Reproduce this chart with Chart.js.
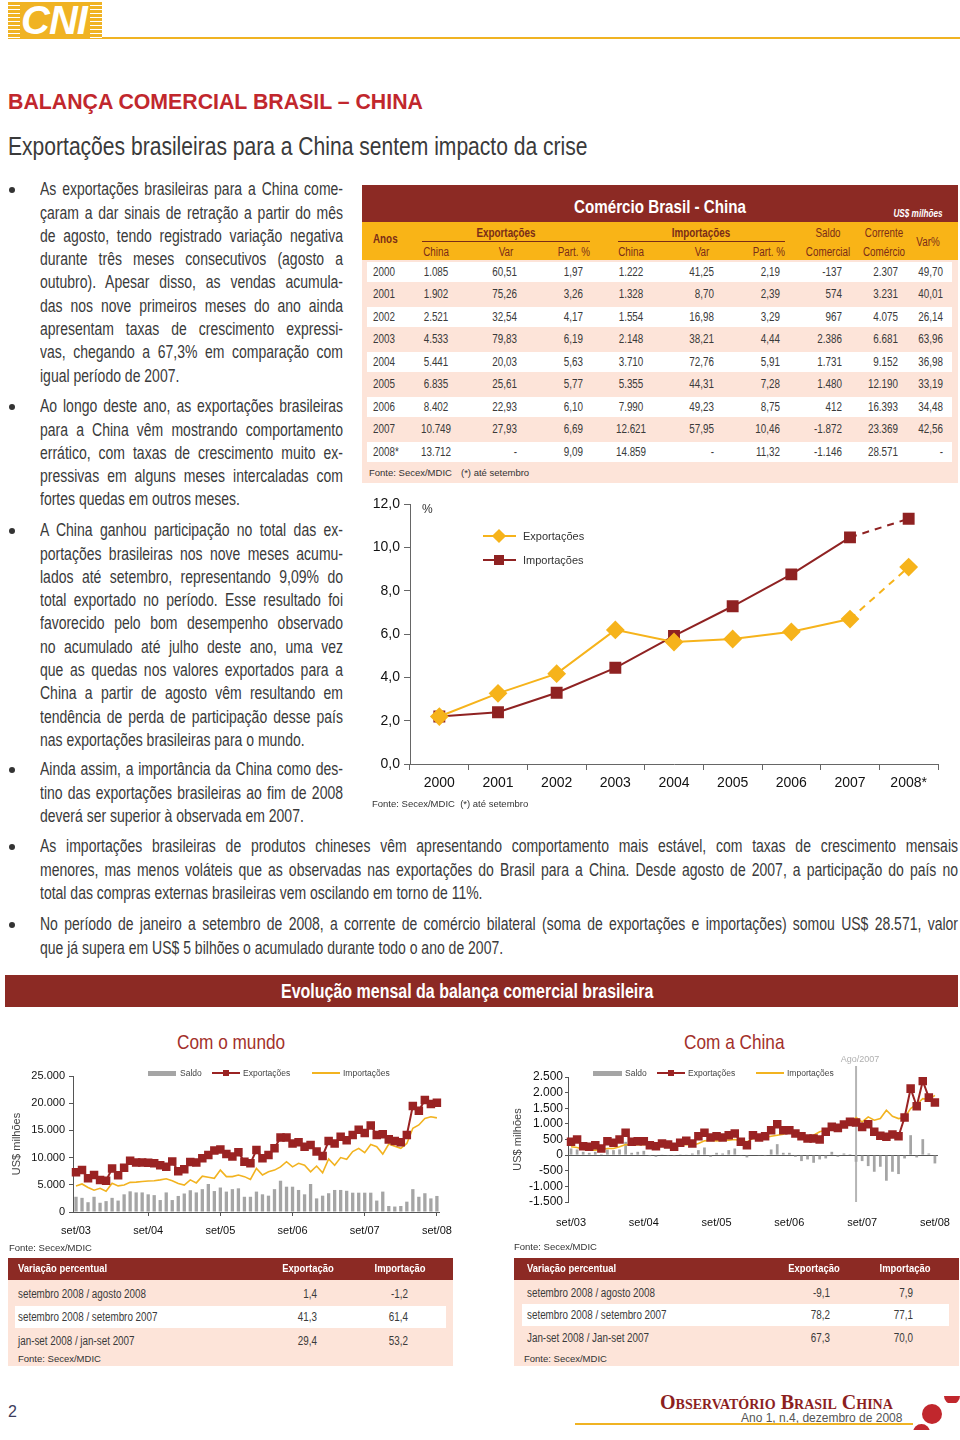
<!DOCTYPE html>
<html lang="pt-BR">
<head>
<meta charset="utf-8">
<title>Balança comercial Brasil – China</title>
<script src="https://cdn.jsdelivr.net/npm/chart.js@4.4.0/dist/chart.umd.min.js"></script>
<style>
  html, body { margin: 0; padding: 0; background: #fff; }
  body { width: 960px; height: 1440px; position: relative; overflow: hidden;
         font-family: Arial, "Liberation Sans", sans-serif; color: #3a3a3a; }
  .abs { position: absolute; }
  /* fonte condensada simulada: Arial comprimida na horizontal */
  .estreita { font-family: Arial, "Liberation Sans", sans-serif; --sx: 0.82; }
  .c { transform: translate(-50%, -50%) scaleX(var(--sx, 1)); white-space: nowrap; }
  .r { transform: translate(-100%, -50%) scaleX(var(--sx, 1)); transform-origin: right center; white-space: nowrap; }
  .l { transform: translateY(-50%) scaleX(var(--sx, 1)); transform-origin: left center; white-space: nowrap; }

  /* logo */
  .logo { left: 8px; top: 2px; width: 94px; height: 37px; background: #f0b323; overflow: hidden; }
  .logo .listras { position: absolute; top: 0; width: 12px; height: 37px;
    background: repeating-linear-gradient(#f0b323 0 3px, #fff 3px 4px); }
  .logo span { position: absolute; left: 13px; top: -4px; font: italic 900 40px Arial, sans-serif; color: #fff; letter-spacing: -1px; }
  .linha-logo { left: 102px; top: 37px; width: 858px; height: 2px; background: #f0b323; }

  .titulo { left: 8px; top: 90px; font: bold 21.3px Arial, sans-serif; color: #c1272d; white-space: nowrap; }
  .subtitulo { left: 8px; top: 132px; font-size: 25.7px; color: #3a3a3a; white-space: nowrap;
               transform: scaleX(0.82); transform-origin: 0 0; }

  .par { font-size: 17.5px; line-height: 23.3px; color: #3a3a3a; transform: scaleX(0.8); transform-origin: 0 0; }
  .par span { display: block; text-align: justify; text-align-last: justify; }
  .par span.u { text-align-last: left; }
  .bala { left: 9px; width: 6px; height: 6px; border-radius: 50%; background: #333; }

  /* tabela comércio */
  .tab-topo { left: 362px; top: 185px; width: 596px; height: 37px; background: #8c2a24; }
  .tab-amarela { left: 362px; top: 222px; width: 596px; height: 38px; background: #f9b417; }
  .tab-corpo { left: 362px; top: 260px; width: 596px; height: 223px; background: #fde4d9; }
  .faixa { background: #fff; }
  .cab { font-size: 12px; color: #7a2c18; }
  .val { font-size: 12px; color: #3a3a3a; }
  .fonte { font: 9.5px Arial, sans-serif; color: #333; white-space: nowrap; }

  .leg { font: 11px Arial, sans-serif; color: #333; white-space: nowrap; }
  .leg-p { font: 8.5px Arial, sans-serif; color: #444; white-space: nowrap; }

  .banner { left: 5px; top: 975px; width: 953px; height: 32px; background: #8c2a24; }
  .banner span { position: absolute; left: 276px; top: 5px; font: bold 19.5px Arial, sans-serif; color: #fff; white-space: nowrap;
                 transform: scaleX(0.82); transform-origin: 0 0; }
  .sub-graf { font-size: 21px; color: #a3302a; }

  .vt-cab { height: 22px; background: #8c2a24; }
  .vt-corpo { background: #fde4d9; }
  .vt-cab-txt { font-weight: bold; font-size: 11.5px; color: #fff; }
  .vt-txt { font-size: 12px; color: #3a3a3a; }

  .rodape-nome { font: bold 20px "Liberation Serif", "DejaVu Serif", serif; font-variant: small-caps; color: #8c1f1f; }
  .rodape-ano { left: 741px; top: 1411px; font: 12px Arial, sans-serif; color: #555; white-space: nowrap; }
</style>
</head>
<body>

<!-- cabeçalho -->
<div class="abs logo"><div class="listras" style="left:0"></div><div class="listras" style="right:0"></div><span>CNI</span></div>
<div class="abs linha-logo"></div>

<div class="abs titulo">BALANÇA COMERCIAL BRASIL – CHINA</div>
<div class="abs subtitulo">Exportações brasileiras para a China sentem impacto da crise</div>

<!-- texto coluna esquerda (caixa 303px depois da compressão 0.8) -->
<div class="abs bala" style="top:187px"></div>
<div class="abs par" style="left:40px;top:178.3px;width:378.75px">
  <span>As exportações brasileiras para a China come-</span>
  <span>çaram a dar sinais de retração a partir do mês</span>
  <span>de agosto, tendo registrado variação negativa</span>
  <span>durante três meses consecutivos (agosto a</span>
  <span>outubro). Apesar disso, as vendas acumula-</span>
  <span>das nos nove primeiros meses do ano ainda</span>
  <span>apresentam taxas de crescimento expressi-</span>
  <span>vas, chegando a 67,3% em comparação com</span>
  <span class="u">igual período de 2007.</span>
</div>

<div class="abs bala" style="top:404px"></div>
<div class="abs par" style="left:40px;top:395.3px;width:378.75px">
  <span>Ao longo deste ano, as exportações brasileiras</span>
  <span>para a China vêm mostrando comportamento</span>
  <span>errático, com taxas de crescimento muito ex-</span>
  <span>pressivas em alguns meses intercaladas com</span>
  <span class="u">fortes quedas em outros meses.</span>
</div>

<div class="abs bala" style="top:528px"></div>
<div class="abs par" style="left:40px;top:519.3px;width:378.75px">
  <span>A China ganhou participação no total das ex-</span>
  <span>portações brasileiras nos nove meses acumu-</span>
  <span>lados até setembro, representando 9,09% do</span>
  <span>total exportado no período. Esse resultado foi</span>
  <span>favorecido pelo bom desempenho observado</span>
  <span>no acumulado até julho deste ano, uma vez</span>
  <span>que as quedas nos valores exportados para a</span>
  <span>China a partir de agosto vêm resultando em</span>
  <span>tendência de perda de participação desse país</span>
  <span class="u">nas exportações brasileiras para o mundo.</span>
</div>

<div class="abs bala" style="top:767px"></div>
<div class="abs par" style="left:40px;top:758.3px;width:378.75px">
  <span>Ainda assim, a importância da China como des-</span>
  <span>tino das exportações brasileiras ao fim de 2008</span>
  <span class="u">deverá ser superior à observada em 2007.</span>
</div>

<!-- tabela Comércio Brasil - China -->
<div class="abs tab-topo"></div>
<div class="abs tab-amarela"></div>
<div class="abs tab-corpo"></div>
<div id="tabela"></div>
<div class="abs c estreita" style="left:660px;top:207px;font-weight:bold;font-size:18.5px;color:#fff">Comércio Brasil - China</div>
<div class="abs c estreita" style="left:918px;top:213px;font-weight:bold;font-style:italic;font-size:10px;color:#fff">US$ milhões</div>

<!-- gráfico de participação -->
<canvas id="graficoParticipacao" class="abs" style="left:362px;top:490px" width="598" height="330"></canvas>
<div class="abs l" style="left:422px;top:509px;font:12px Arial,sans-serif;color:#333">%</div>
<div class="abs" style="left:483px;top:535px;width:33px;height:2px;background:#f6b31b"></div>
<div class="abs" style="left:494px;top:531px;width:10px;height:10px;background:#f6b31b;transform:rotate(45deg)"></div>
<div class="abs leg l" style="left:523px;top:536px">Exportações</div>
<div class="abs" style="left:483px;top:559px;width:33px;height:2px;background:#8f2222"></div>
<div class="abs" style="left:494px;top:555px;width:10px;height:10px;background:#8f2222"></div>
<div class="abs leg l" style="left:523px;top:560px">Importações</div>
<div class="abs fonte l" style="left:372px;top:803px">Fonte: Secex/MDIC&nbsp; (*) até setembro</div>

<!-- texto largura total (caixa 918px depois da compressão 0.8) -->
<div class="abs bala" style="top:844px"></div>
<div class="abs par" style="left:40px;top:835.3px;width:1147.5px">
  <span>As importações brasileiras de produtos chineses vêm apresentando comportamento mais estável, com taxas de crescimento mensais</span>
  <span>menores, mas menos voláteis que as observadas nas exportações do Brasil para a China. Desde agosto de 2007, a participação do país no</span>
  <span class="u">total das compras externas brasileiras vem oscilando em torno de 11%.</span>
</div>
<div class="abs bala" style="top:922px"></div>
<div class="abs par" style="left:40px;top:913.3px;width:1147.5px">
  <span>No período de janeiro a setembro de 2008, a corrente de comércio bilateral (soma de exportações e importações) somou US$ 28.571, valor</span>
  <span class="u">que já supera em US$ 5 bilhões o acumulado durante todo o ano de 2007.</span>
</div>

<!-- evolução mensal -->
<div class="abs banner"><span>Evolução mensal da balança comercial brasileira</span></div>
<div class="abs sub-graf estreita l" style="left:177px;top:1042px">Com o mundo</div>
<div class="abs sub-graf estreita l" style="left:684px;top:1042px">Com a China</div>

<canvas id="graficoMundo" class="abs" style="left:0;top:1055px" width="460" height="190"></canvas>
<canvas id="graficoChina" class="abs" style="left:505px;top:1055px" width="455" height="190"></canvas>

<!-- legendas dos gráficos mensais -->
<div class="abs" style="left:148px;top:1071px;width:28px;height:5px;background:#a5a5a5"></div>
<div class="abs leg-p l" style="left:180px;top:1073px">Saldo</div>
<div class="abs" style="left:212px;top:1072px;width:28px;height:2px;background:#9a2323"></div>
<div class="abs" style="left:223px;top:1070px;width:6px;height:6px;background:#9a2323"></div>
<div class="abs leg-p l" style="left:243px;top:1073px">Exportações</div>
<div class="abs" style="left:312px;top:1072px;width:28px;height:1.5px;background:#f2b320"></div>
<div class="abs leg-p l" style="left:343px;top:1073px">Importações</div>

<div class="abs" style="left:593px;top:1071px;width:29px;height:5px;background:#a5a5a5"></div>
<div class="abs leg-p l" style="left:625px;top:1073px">Saldo</div>
<div class="abs" style="left:657px;top:1072px;width:28px;height:2px;background:#9a2323"></div>
<div class="abs" style="left:668px;top:1070px;width:6px;height:6px;background:#9a2323"></div>
<div class="abs leg-p l" style="left:688px;top:1073px">Exportações</div>
<div class="abs" style="left:756px;top:1072px;width:28px;height:1.5px;background:#f2b320"></div>
<div class="abs leg-p l" style="left:787px;top:1073px">Importações</div>

<div class="abs fonte l" style="left:9px;top:1247px">Fonte: Secex/MDIC</div>
<div class="abs fonte l" style="left:514px;top:1246px">Fonte: Secex/MDIC</div>

<!-- tabelas de variação -->
<div id="variacoes"></div>

<!-- rodapé -->
<div class="abs l" style="left:8px;top:1412px;font:16px Arial,sans-serif;color:#3d3d5c">2</div>
<div class="abs l rodape-nome" style="left:660px;top:1402px">Observatório Brasil China</div>
<div class="abs rodape-ano">Ano 1, n.4, dezembro de 2008</div>
<div class="abs" style="left:575px;top:1423px;width:338px;height:2px;background:#f0b323"></div>
<div class="abs" style="left:922px;top:1404px;width:20px;height:20px;border-radius:50%;background:#c1272d"></div>
<div class="abs" style="left:944px;top:1396px;width:16px;height:7px;overflow:hidden"><div style="width:16px;height:16px;border-radius:50%;background:#c1272d;margin-top:-8px"></div></div>
<div class="abs" style="left:913px;top:1424px;width:17px;height:6px;overflow:hidden"><div style="width:17px;height:17px;border-radius:50%;background:#c1272d"></div></div>

<script>
// ---------- dados: tabela Comércio Brasil - China (US$ milhões) ----------
const anos = ["2000", "2001", "2002", "2003", "2004", "2005", "2006", "2007", "2008*"];
const expChina = ["1.085", "1.902", "2.521", "4.533", "5.441", "6.835", "8.402", "10.749", "13.712"];
const expVar = ["60,51", "75,26", "32,54", "79,83", "20,03", "25,61", "22,93", "27,93", "-"];
const expPart = ["1,97", "3,26", "4,17", "6,19", "5,63", "5,77", "6,10", "6,69", "9,09"];
const impChina = ["1.222", "1.328", "1.554", "2.148", "3.710", "5.355", "7.990", "12.621", "14.859"];
const impVar = ["41,25", "8,70", "16,98", "38,21", "72,76", "44,31", "49,23", "57,95", "-"];
const impPart = ["2,19", "2,39", "3,29", "4,44", "5,91", "7,28", "8,75", "10,46", "11,32"];
const saldoComercial = ["-137", "574", "967", "2.386", "1.731", "1.480", "412", "-1.872", "-1.146"];
const correnteComercio = ["2.307", "3.231", "4.075", "6.681", "9.152", "12.190", "16.393", "23.369", "28.571"];
const varCorrente = ["49,70", "40,01", "26,14", "63,96", "36,98", "33,19", "34,48", "42,56", "-"];

// ---------- dados: participação % (gráfico de linhas) ----------
const partExportacoes = [2.19, 3.26, 4.17, 6.19, 5.63, 5.77, 6.10, 6.69, 9.09];
const partImportacoes = [2.19, 2.39, 3.29, 4.44, 5.91, 7.28, 8.75, 10.46, 11.32];

// ---------- dados: evolução mensal (US$ milhões) ----------
const meses = [
  "set/03", "out/03", "nov/03", "dez/03",
  "jan/04", "fev/04", "mar/04", "abr/04", "mai/04", "jun/04", "jul/04", "ago/04", "set/04", "out/04", "nov/04", "dez/04",
  "jan/05", "fev/05", "mar/05", "abr/05", "mai/05", "jun/05", "jul/05", "ago/05", "set/05", "out/05", "nov/05", "dez/05",
  "jan/06", "fev/06", "mar/06", "abr/06", "mai/06", "jun/06", "jul/06", "ago/06", "set/06", "out/06", "nov/06", "dez/06",
  "jan/07", "fev/07", "mar/07", "abr/07", "mai/07", "jun/07", "jul/07", "ago/07", "set/07", "out/07", "nov/07", "dez/07",
  "jan/08", "fev/08", "mar/08", "abr/08", "mai/08", "jun/08", "jul/08", "ago/08", "set/08"
];

const mundoExportacoes = [
  7290, 7700, 6200, 6800, 5900, 5750, 8000, 6750, 8150, 9400, 9100, 9100, 9050, 8950, 8600, 8300,
  9300, 7500, 7850, 9200, 9100, 9900, 10500, 11300, 11500, 10650, 10200, 10970,
  9250, 8950, 11400, 9900, 10500, 11700, 13700, 13700, 12600, 12800, 12000, 12300,
  11100, 10300, 13050, 12600, 13850, 13200, 14150, 15100, 14500, 15900, 14150, 14300,
  13350, 13050, 12800, 14150, 19500, 18600, 20600, 19850, 20100
];
const mundoImportacoes = [
  4800, 5150, 4500, 4000, 4350, 3800, 5300, 4800, 4950, 5450, 5500, 5600, 5700, 5750, 5900, 6100,
  5750, 5250, 4950, 5900, 5350, 6600, 6400, 6200, 7700, 6500, 6500, 6800,
  6500, 6000, 8000, 6800, 7400, 7700, 8300, 9250, 8300, 8950, 8600, 7400,
  8450, 7200, 9750, 8600, 10000, 9700, 11100, 11700, 10900, 12400, 12000, 10650,
  12500, 12100, 11700, 12600, 15400, 16000, 17200, 17500, 17300
];
const mundoSaldo = [
  2800, 2600, 1800, 2800, 1700, 2000, 2600, 2100, 3250, 3800, 3600, 3600, 3250, 3100, 2200, 3600,
  2200, 2950, 3400, 4000, 3600, 4200, 5150, 3850, 4500, 3750, 4200, 4350,
  2800, 2800, 3750, 3250, 3000, 4200, 5750, 4650, 4650, 4050, 3250, 5150,
  2500, 3000, 3450, 4050, 4050, 3900, 3550, 3550, 3550, 3550, 2100, 3750,
  1100, 1000, 1100, 1900, 4200, 2800, 3450, 2500, 2950
];

const chinaExportacoes = [
  425, 500, 287, 266, 319, 213, 447, 394, 500, 713, 425, 447, 447, 319, 287, 372,
  340, 266, 394, 457, 372, 606, 713, 564, 606, 564, 638, 691,
  425, 319, 638, 564, 606, 798, 989, 798, 798, 691, 606, 532,
  532, 500, 745, 904, 872, 979, 1064, 1043, 904, 989, 745, 617,
  585, 660, 606, 1202, 2128, 1564, 2372, 1840, 1681
];
const chinaImportacoes = [
  266, 245, 191, 160, 160, 181, 213, 213, 266, 340, 319, 330, 340, 319, 266, 287,
  287, 287, 298, 340, 319, 372, 457, 479, 457, 479, 479, 500,
  457, 425, 532, 532, 564, 606, 638, 670, 745, 745, 691, 585,
  638, 745, 798, 883, 872, 957, 1032, 1202, 1064, 1223, 1117, 1170,
  1436, 1245, 1170, 1202, 1489, 1628, 1809, 1775, 1915
];
const chinaSaldo = [
  213, 181, 106, 74, 106, 32, 181, 160, 181, 425, 74, 106, 138, -32, -53, 21,
  -10, -32, 5, 21, 53, 160, 245, -53, 74, 53, 160, 213,
  -21, -74, 0, -21, -30, 181, 351, 74, 74, -53, -191, -138,
  -245, -138, -106, 106, -53, 53, 32, -213, -191, -351, -532, -372,
  -819, -532, -606, -106, 638, -74, 511, 53, -266
];

// ---------- dados: tabelas de variação percentual ----------
const variacaoRotulosMundo = ["setembro 2008 / agosto 2008", "setembro 2008 / setembro 2007", "jan-set 2008 / jan-set 2007"];
const mundoVarExp = ["1,4", "41,3", "29,4"];
const mundoVarImp = ["-1,2", "61,4", "53,2"];
const variacaoRotulosChina = ["setembro 2008 / agosto 2008", "setembro 2008 / setembro 2007", "Jan-set 2008 / Jan-set 2007"];
const chinaVarExp = ["-9,1", "78,2", "67,3"];
const chinaVarImp = ["7,9", "77,1", "70,0"];

// ---------- helpers de montagem ----------
function celula(pai, texto, x, y, alinhamento, classes, estiloExtra) {
  const d = document.createElement("div");
  d.className = "abs " + alinhamento + " " + (classes || "");
  d.style.left = x + "px";
  d.style.top = y + "px";
  if (estiloExtra) d.style.cssText += estiloExtra;
  d.textContent = texto;
  pai.appendChild(d);
  return d;
}

function caixa(pai, x, y, w, h, classes, estiloExtra) {
  const d = document.createElement("div");
  d.className = "abs " + (classes || "");
  d.style.cssText = `left:${x}px;top:${y}px;width:${w}px;height:${h}px;` + (estiloExtra || "");
  pai.appendChild(d);
  return d;
}

function milhar(v) {
  return String(v).replace(/\B(?=(\d{3})+(?!\d))/g, ".");
}

// ---------- tabela Comércio Brasil - China ----------
(function montarTabela() {
  const t = document.getElementById("tabela");

  // cabeçalho amarelo
  celula(t, "Anos", 373, 239, "l", "cab estreita", "font-weight:bold");
  celula(t, "Exportações", 506, 233, "c", "cab estreita", "font-weight:bold");
  caixa(t, 422, 241, 168, 1, "", "background:#7a2c18");
  celula(t, "China", 436, 252, "c", "cab estreita");
  celula(t, "Var", 506, 252, "c", "cab estreita");
  celula(t, "Part. %", 590, 252, "r", "cab estreita");
  celula(t, "Importações", 701, 233, "c", "cab estreita", "font-weight:bold");
  caixa(t, 618, 241, 167, 1, "", "background:#7a2c18");
  celula(t, "China", 631, 252, "c", "cab estreita");
  celula(t, "Var", 702, 252, "c", "cab estreita");
  celula(t, "Part. %", 785, 252, "r", "cab estreita");
  celula(t, "Saldo", 828, 233, "c", "cab estreita");
  celula(t, "Comercial", 828, 252, "c", "cab estreita");
  celula(t, "Corrente", 884, 233, "c", "cab estreita");
  celula(t, "Comércio", 884, 252, "c", "cab estreita");
  celula(t, "Var%", 928, 242, "c", "cab estreita");

  anos.forEach((ano, i) => {
    const y = 271.5 + 22.5 * i;
    if (i % 2 === 0) caixa(t, 367, y - 10, 585, 20, "faixa");
    celula(t, ano, 373, y, "l", "val estreita");
    celula(t, expChina[i], 436, y, "c", "val estreita");
    celula(t, expVar[i], 517, y, "r", "val estreita");
    celula(t, expPart[i], 583, y, "r", "val estreita");
    celula(t, impChina[i], 631, y, "c", "val estreita");
    celula(t, impVar[i], 714, y, "r", "val estreita");
    celula(t, impPart[i], 780, y, "r", "val estreita");
    celula(t, saldoComercial[i], 842, y, "r", "val estreita");
    celula(t, correnteComercio[i], 898, y, "r", "val estreita");
    celula(t, varCorrente[i], 943, y, "r", "val estreita");
  });

  celula(t, "Fonte: Secex/MDIC", 369, 472, "l", "fonte");
  celula(t, "(*) até setembro", 461, 472, "l", "fonte");
})();

// ---------- tabelas de variação ----------
(function montarVariacoes() {
  const v = document.getElementById("variacoes");
  const blocos = [
    { x: 8, w: 445, txt: 18, exp: 317, imp: 408, cExp: 308, cImp: 400, ys: [1294, 1317, 1341], faixa: [15, 1306, 431],
      rot: variacaoRotulosMundo, e: mundoVarExp, m: mundoVarImp, fonteX: 18 },
    { x: 514, w: 445, txt: 527, exp: 830, imp: 913, cExp: 814, cImp: 905, ys: [1293, 1315, 1337.5], faixa: [522, 1304, 427],
      rot: variacaoRotulosChina, e: chinaVarExp, m: chinaVarImp, fonteX: 524 },
  ];
  blocos.forEach((b) => {
    caixa(v, b.x, 1258, b.w, 22, "vt-cab");
    caixa(v, b.x, 1280, b.w, 86, "vt-corpo");
    caixa(v, b.faixa[0], b.faixa[1], b.faixa[2], 22, "faixa");
    celula(v, "Variação percentual", b.txt, 1268, "l", "vt-cab-txt estreita");
    celula(v, "Exportação", b.cExp, 1268, "c", "vt-cab-txt estreita");
    celula(v, "Importação", b.cImp, 1268, "c", "vt-cab-txt estreita");
    b.rot.forEach((r, i) => {
      celula(v, r, b.txt, b.ys[i], "l", "vt-txt estreita");
      celula(v, b.e[i], b.exp, b.ys[i], "r", "vt-txt estreita");
      celula(v, b.m[i], b.imp, b.ys[i], "r", "vt-txt estreita");
    });
    celula(v, "Fonte: Secex/MDIC", b.fonteX, 1358, "l", "fonte");
  });
})();

// ---------- gráficos ----------
Chart.defaults.font.family = 'Arial, "Liberation Sans", sans-serif';
Chart.defaults.color = "#222";

const corExp = "#f6b31b";
const corImp = "#8f2222";

new Chart(document.getElementById("graficoParticipacao"), {
  type: "line",
  data: {
    labels: anos,
    datasets: [
      {
        label: "Exportações",
        data: partExportacoes,
        borderColor: corExp,
        backgroundColor: corExp,
        borderWidth: 2,
        pointStyle: "rectRot",
        pointRadius: 8,
        pointHoverRadius: 8,
        order: 0,
        segment: { borderDash: (c) => (c.p1DataIndex === anos.length - 1 ? [7, 6] : undefined) },
      },
      {
        label: "Importações",
        data: partImportacoes,
        borderColor: corImp,
        backgroundColor: corImp,
        borderWidth: 2,
        pointStyle: "rect",
        pointRadius: 7,
        pointHoverRadius: 7,
        order: 1,
        segment: { borderDash: (c) => (c.p1DataIndex === anos.length - 1 ? [7, 6] : undefined) },
      },
    ],
  },
  options: {
    responsive: false,
    animation: false,
    layout: { padding: { top: 14, right: 22, left: 0, bottom: 0 } },
    plugins: { legend: { display: false }, tooltip: { enabled: false } },
    scales: {
      x: {
        offset: true,
        grid: { offset: true, drawOnChartArea: false, tickLength: 6, color: "#666" },
        border: { color: "#666" },
        ticks: { font: { size: 14 }, color: "#111", padding: 5 },
        afterFit: (s) => { s.height = 56; },
      },
      y: {
        min: 0,
        max: 12,
        ticks: { stepSize: 2, font: { size: 14 }, color: "#111", padding: 4, callback: (v) => v.toFixed(1).replace(".", ",") },
        grid: { drawOnChartArea: false, tickLength: 6, color: "#666" },
        border: { color: "#666" },
        afterFit: (s) => { s.width = 48; },
      },
    },
  },
});

// linha vertical de agosto/2007 no gráfico da China
const indiceAgo2007 = meses.indexOf("ago/07");
const linhaAgo2007 = {
  id: "linhaAgo2007",
  beforeDatasetsDraw(chart) {
    const x = chart.scales.x.getPixelForValue(indiceAgo2007);
    const ctx = chart.ctx;
    ctx.save();
    ctx.strokeStyle = "#b5b5b5";
    ctx.lineWidth = 2;
    ctx.beginPath();
    ctx.moveTo(x, 11);
    ctx.lineTo(x, chart.chartArea.bottom);
    ctx.stroke();
    ctx.fillStyle = "#b0b0b0";
    ctx.font = "9px Arial, sans-serif";
    ctx.textAlign = "center";
    ctx.textBaseline = "middle";
    ctx.fillText("Ago/2007", x + 4, 5);
    ctx.restore();
  },
};

function graficoMensal(el, exp, imp, saldo, opcoes) {
  return new Chart(el, {
    type: "bar",
    data: {
      labels: meses,
      datasets: [
        {
          type: "line",
          label: "Exportações",
          data: exp,
          borderColor: "#9a2323",
          backgroundColor: "#9a2323",
          borderWidth: 2,
          pointStyle: "rect",
          pointRadius: opcoes.raioPonto,
          pointHoverRadius: opcoes.raioPonto,
          order: 0,
        },
        {
          type: "line",
          label: "Importações",
          data: imp,
          borderColor: "#f2b320",
          borderWidth: 1.6,
          pointRadius: 0,
          order: 1,
        },
        {
          type: "bar",
          label: "Saldo",
          data: saldo,
          backgroundColor: "#a5a5a5",
          barPercentage: opcoes.larguraBarra,
          categoryPercentage: 1,
          order: 2,
        },
      ],
    },
    options: {
      responsive: false,
      animation: false,
      layout: { padding: opcoes.padding },
      plugins: { legend: { display: false }, tooltip: { enabled: false } },
      scales: {
        x: {
          grid: {
            display: opcoes.marcasX,
            offset: false,
            drawOnChartArea: false,
            tickLength: 4,
            color: (c) => (c.index > 0 && c.index % 12 === 0 ? "#555" : "rgba(0,0,0,0)"),
          },
          border: { display: opcoes.marcasX, color: "#555" },
          ticks: {
            autoSkip: false,
            maxRotation: 0,
            font: { size: 11 },
            color: "#111",
            padding: opcoes.paddingX,
            callback(v, i) { return i % 12 === 0 ? this.getLabelForValue(v) : ""; },
          },
          afterFit: (s) => { s.height = opcoes.alturaX; },
        },
        y: {
          min: opcoes.min,
          max: opcoes.max,
          ticks: { stepSize: opcoes.passo, autoSkip: false, font: { size: opcoes.fonteY }, color: "#111", padding: opcoes.paddingY, callback: (v) => milhar(v) },
          grid: {
            drawOnChartArea: opcoes.linhaZero,
            tickLength: opcoes.tickY,
            tickColor: "#555",
            color: (c) => (c.tick && c.tick.value === 0 ? "#555" : "rgba(0,0,0,0)"),
          },
          border: { color: "#555" },
          title: { display: true, text: "US$ milhões", font: { size: 11 }, color: "#444", padding: { top: opcoes.tituloPad, bottom: 0 } },
          afterFit: (s) => { s.width = opcoes.larguraY; },
        },
      },
    },
    plugins: opcoes.plugins || [],
  });
}

graficoMensal(document.getElementById("graficoMundo"), mundoExportacoes, mundoImportacoes, mundoSaldo, {
  raioPonto: 4.6,
  larguraBarra: 0.55,
  padding: { top: 21, right: 15, left: 0, bottom: 0 },
  marcasX: true,
  paddingX: 8,
  alturaX: 33,
  min: 0,
  max: 25000,
  passo: 5000,
  fonteY: 11,
  paddingY: 4,
  tickY: 4,
  linhaZero: false,
  tituloPad: 10,
  larguraY: 73,
});

graficoMensal(document.getElementById("graficoChina"), chinaExportacoes, chinaImportacoes, chinaSaldo, {
  raioPonto: 4.6,
  larguraBarra: 0.45,
  padding: { top: 22, right: 14, left: 0, bottom: 0 },
  marcasX: false,
  paddingX: 10,
  alturaX: 43,
  min: -1500,
  max: 2500,
  passo: 500,
  fonteY: 12,
  paddingY: 2,
  tickY: 3,
  linhaZero: true,
  tituloPad: 6,
  larguraY: 63,
  plugins: [linhaAgo2007],
});
</script>
</body>
</html>
